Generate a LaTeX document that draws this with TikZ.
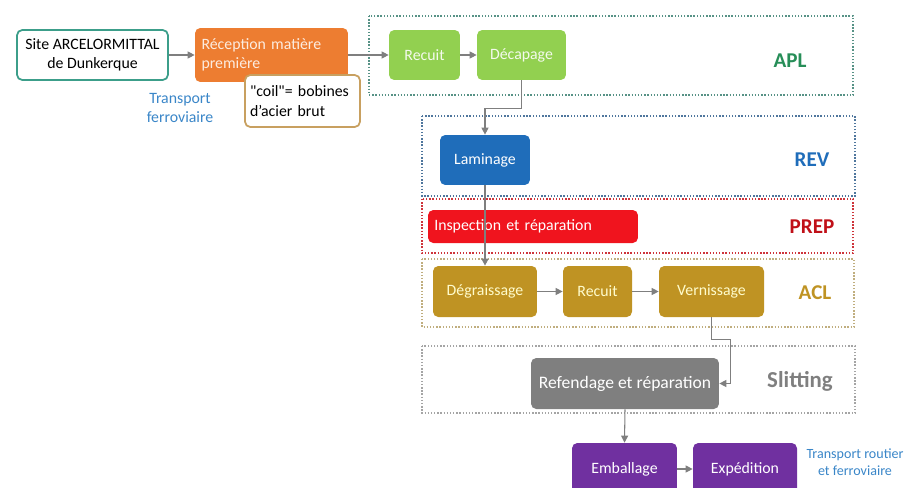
\documentclass[tikz,border=0pt]{standalone}
\usepackage{fontspec}
\setmainfont{Carlito}
\usetikzlibrary{arrows.meta}

\definecolor{orangeR}{HTML}{ED7D31}
\definecolor{greenA}{HTML}{92D050}
\definecolor{blueR}{HTML}{1F6DBA}
\definecolor{redP}{HTML}{F0141E}
\definecolor{goldA}{HTML}{BF9323}
\definecolor{grayS}{HTML}{7F7F7F}
\definecolor{purpleE}{HTML}{7030A0}
\definecolor{tealS}{HTML}{3C9E8A}
\definecolor{tanC}{HTML}{C8A060}
\definecolor{txtBlue}{HTML}{3A86C8}

\tikzset{
  box/.style={rounded corners=3pt, inner sep=2pt, font=\fontsize{9}{11}\selectfont, text=white},
  zone/.style={densely dotted, line width=0.8pt},
  zonelabel/.style={font=\fontsize{12}{14}\selectfont\bfseries},
  arr/.style={draw=grayS, line width=0.6pt, -{Triangle[length=4pt,width=4pt]}}
}

\begin{document}
\begin{tikzpicture}[x=0.02cm, y=-0.02cm]
  \useasboundingbox (0,0) rectangle (909,487);
  \clip (0,0) rectangle (909,487);
  % Zones
  \draw[zone, draw=tealS!60!gray] (369,16) rectangle (853,95);
  \draw[zone, draw=blueR!50!gray] (422,116) rectangle (855,196);
  \draw[zone, draw=redP!70!gray] (422,199) rectangle (853,253);
  \draw[zone, draw=goldA!60!gray!70] (422,259) rectangle (854,327);
  \draw[zone, draw=grayS!70] (422,346) rectangle (855,413);
  \node[zonelabel, text=tealS!80!green!80!black] (apl) at (790,61) {APL};
  \node[zonelabel, text=blueR] (rev) at (812,160) {REV};
  \node[zonelabel, text=redP!80!black] (prep) at (812,227) {PREP};
  \node[zonelabel, text=goldA] (acl) at (815,293) {ACL};
  \node[zonelabel, text=grayS, font=\fontsize{13}{15}\selectfont\bfseries] (slit) at (800,381) {Slitting};
  % Nodes
  \node[box, draw=tealS, line width=1pt, fill=white, text=black, minimum width=3.02cm, minimum height=1cm, align=center] (site) at (92.5,55) {Site ARCELORMITTAL\\de Dunkerque};
  \node[box, fill=orangeR, text=white!85!orangeR, minimum width=3.06cm, minimum height=1.08cm, text width=2.8cm, align=left] (recep) at (271.5,55) {R\'eception mati\`ere\\premi\`ere};
  \node[box, draw=tanC, line width=1pt, fill=white, text=black, minimum width=2.3cm, minimum height=1.04cm, text width=2.1cm, align=left] (coil) at (302.5,101) {\textquotedbl coil\textquotedbl= bobines\\d'acier brut};
  \node[text=txtBlue, font=\fontsize{9}{11}\selectfont, align=center] (train) at (180,108) {Transport\\ferroviaire};
  \node[box, fill=greenA, text=white!90!greenA, minimum width=1.42cm, minimum height=1cm] (recuitA) at (424.5,55) {Recuit};
  \node[box, fill=greenA, text=white!90!greenA, minimum width=1.78cm, minimum height=1cm] (decap) at (521.5,55) {D\'ecapage};
  \node[box, fill=blueR, minimum width=1.8cm, minimum height=1cm] (lamin) at (485,160) {Laminage};
  \node[box, fill=redP, minimum width=4.2cm, minimum height=0.66cm, text width=3.95cm, align=left] (inspect) at (533,226.5) {Inspection et r\'eparation};
  \node[box, fill=goldA, text=yellow!20, minimum width=2.08cm, minimum height=1.02cm] (degr) at (485,291.5) {D\'egraissage};
  \node[box, fill=goldA, text=yellow!20, minimum width=1.38cm, minimum height=1.02cm] (recuitB) at (597.5,291.5) {Recuit};
  \node[box, fill=goldA, text=yellow!20, minimum width=2.1cm, minimum height=1.02cm] (vern) at (711.5,291.5) {Vernissage};
  \node[box, fill=grayS, minimum width=3.76cm, minimum height=1.02cm, font=\fontsize{10}{12}\selectfont] (refend) at (625,383.5) {Refendage et r\'eparation};
  \node[box, fill=purpleE, minimum width=2.1cm, minimum height=1.04cm] (emb) at (624.5,469) {Emballage};
  \node[box, fill=purpleE, minimum width=2.08cm, minimum height=1.04cm] (exped) at (745,469) {Exp\'edition};
  \node[text=txtBlue, font=\fontsize{8}{10}\selectfont, align=center, inner sep=1pt] (road) at (855,462) {Transport routier\\et ferroviaire};
  % Edges
  \draw[arr] (site) -- (recep);
  \draw[arr] (recep.east) -- (recuitA.west);
  \draw[arr] (recuitA) -- (decap);
  \draw[arr] (decap.south) -- ++(0,28) -| (lamin.north);
  \draw[arr] (lamin.south) -- (degr.north);
  \draw[arr] (degr) -- (recuitB);
  \draw[arr] (recuitB) -- (vern);
  \draw[arr] (vern.south) -- ++(0,22) -- ++(19,0) |- (refend.east);
  \draw[arr] (refend.south) -- (emb.north);
  \draw[arr] (emb) -- (exped);
\end{tikzpicture}
\end{document}
